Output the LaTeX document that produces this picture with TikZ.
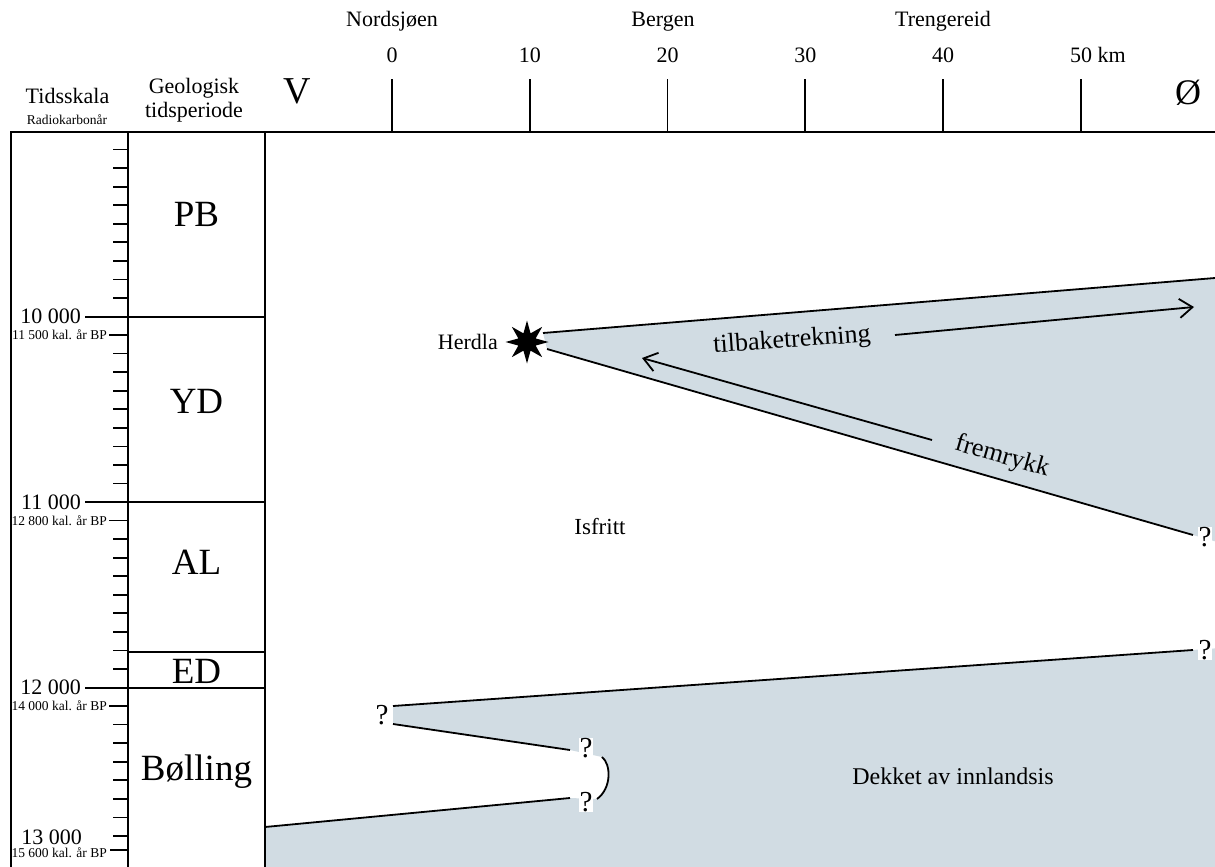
\documentclass[tikz,border=0pt]{standalone}
\usepackage{fontspec}
\setmainfont{Liberation Serif}
\usetikzlibrary{arrows.meta,shapes.geometric}
\definecolor{ice}{RGB}{209,220,227}
\newcommand{\myfs}[1]{\fontsize{#1}{#1}\selectfont}
\begin{document}
\begin{tikzpicture}[x=1pt,y=-1pt,
  frame/.style={line width=2pt},
  tickline/.style={line width=1.7pt},
  iceline/.style={line width=1.8pt},
  lbl/.style={inner sep=0pt, font=\myfs{22}},
  small/.style={inner sep=0pt, font=\myfs{13.5}},
  period/.style={inner sep=0pt, font=\myfs{37}, anchor=base},
  dir/.style={inner sep=0pt, font=\myfs{38}, anchor=base},
  qm/.style={inner sep=0.5pt, font=\myfs{29}, fill=white},
  arr/.style={line width=1.8pt, -{Straight Barb[length=13pt,width=19pt,line width=1.8pt]}},
  flow/.style={inner sep=0pt, font=\myfs{26}}]
\useasboundingbox (0,0) rectangle (1215,867);
\clip (0,0) rectangle (1215,867);
\fill[white] (0,0) rectangle (1215,867);

% ---- ice: upper wedge (Younger Dryas advance) ----
\coordinate (ua) at (543,333);
\coordinate (ub) at (1215,278);
\coordinate (la) at (547,349);
\coordinate (lb) at (1193,535);
\coordinate (lbx) at (1215,541.3);
\fill[ice] (ua) -- (ub) -- (lbx) -- (lb) -- (la) -- cycle;
\draw[iceline] (ua) -- (ub);
\draw[iceline] (la) -- (lb);

% ---- ice: lower sheet ----
\coordinate (sa) at (393,706);
\coordinate (sb) at (1193,650);
\coordinate (sbx) at (1215,648.4);
\coordinate (wa) at (393,724);
\coordinate (wb) at (570,750);
\coordinate (va) at (265,827);
\coordinate (vb) at (570,798);
\coordinate (arcA) at (602,757);
\coordinate (arcB) at (597,799);
\fill[ice] (sa) -- (sbx) -- (1215,867) -- (265,867) -- (va) -- (vb) -- (arcB)
  .. controls (612,788) and (611,764) .. (arcA) -- (wb) -- (wa) -- cycle;
\draw[iceline] (sa) -- (sb);
\draw[iceline] (wa) -- (wb);
\draw[iceline] (va) -- (vb);
\draw[iceline] (arcA) .. controls (611,764) and (612,788) .. (arcB);

% ---- question marks ----
\node[qm] (q1) at (1205,537) {?};
\node[qm] (q2) at (1205,650) {?};
\node[qm] (q3) at (382,715) {?};
\node[qm] (q4) at (586,748) {?};
\node[qm] (q5) at (586,802) {?};

% ---- Herdla ----
\node[star, star points=8, star point ratio=2.3, minimum size=43pt, inner sep=0pt, fill=black] (herdlastar) at (527,342) {};
\node[lbl, anchor=base east] (herdla) at (498,349) {Herdla};

% ---- arrows ----
\coordinate (tA) at (895,335);
\coordinate (tB) at (1194,307);
\draw[arr] (tA) -- (tB);
\coordinate (fA) at (932,440);
\coordinate (fB) at (642,358);
\draw[arr] (fA) -- (fB);
\node[flow, rotate=4] (tilb) at (792,341) {tilbaketrekning};
\node[flow, rotate=-16] (frem) at (1002,457) {fremrykk};

\node[lbl, font=\myfs{23}] (isfritt) at (600,527) {Isfritt};
\node[lbl, font=\myfs{24}] (dekket) at (953,776) {Dekket av innlandsis};

% ---- frame ----
\draw[frame] (10,132) -- (1215,132);
\draw[frame] (11,132) -- (11,867);
\draw[frame] (128,132) -- (128,867);
\draw[frame] (265,132) -- (265,867);

% ---- distance axis ----
\foreach \k/\t in {0/0,1/10,2/20,3/30,4/40} {
  \draw[tickline] ({392+137.75*\k},79) -- ({392+137.75*\k},132);
  \node[lbl, anchor=base] (km\k) at ({392+137.75*\k},63) {\t};
}
\draw[tickline] (1081,79) -- (1081,132);
\node[lbl, anchor=base] (km5) at (1081,63) {50\rlap{ km}};
\node[lbl, anchor=base] (nord) at (392,27) {Nordsjøen};
\node[lbl, anchor=base] (berg) at (663,27) {Bergen};
\node[lbl, anchor=base] (treng) at (943,27) {Trengereid};
\node[dir] (west) at (297,103) {V};
\node[dir, font=\myfs{36}] (east) at (1188,104) {Ø};

% ---- column headers ----
\node[lbl, anchor=base] (tids) at (67.5,103) {Tidsskala};
\node[small, anchor=base] (radio) at (67,124) {Radiokarbonår};
\node[lbl, anchor=base] (geo1) at (194,93) {Geologisk};
\node[lbl, anchor=base] (geo2) at (194,117) {tidsperiode};

% ---- time scale ----
\foreach \k in {1,...,9,12,13,...,19,22,23,...,29,32,33,...,38} {
  \draw[tickline] (113,{131+18.55*\k}) -- (128,{131+18.55*\k});
}
\foreach \k/\t in {10/10 000,20/11 000,30/12 000} {
  \draw[frame] (85,{131+18.55*\k}) -- (265,{131+18.55*\k});
  \node[lbl, anchor=east] (maj\k) at (81,{131+18.55*\k}) {\t};
}
\foreach \k/\t in {11/11 500,21/12 800,31/14 000} {
  \draw[tickline] (109,{131+18.55*\k}) -- (128,{131+18.55*\k});
  \node[small, anchor=east] (cal\k) at (107,{131+18.55*\k}) {\t\ kal. år BP};
}
\node[lbl, anchor=east] (maj40) at (82,837) {13 000};
\draw[tickline] (110,850) -- (128,850);
\node[small, anchor=east] (cal41) at (107,853) {15 600 kal. år BP};

% ---- periods ----
\draw[frame] (128,651.5) -- (265,651.5);
\node[period] (pb) at (196.5,226) {PB};
\node[period] (yd) at (196.5,413) {YD};
\node[period] (al) at (196.5,574) {AL};
\node[period] (ed) at (196.5,683) {ED};
\node[period] (bo) at (196.5,780) {Bølling};
\end{tikzpicture}
\end{document}
